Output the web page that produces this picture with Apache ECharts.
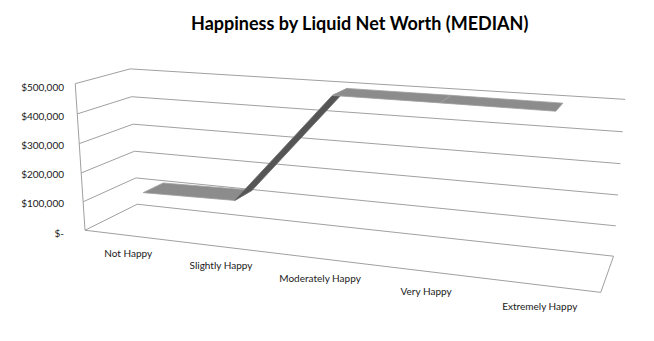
<!DOCTYPE html>
<html>
<head>
<meta charset="utf-8">
<script src="https://cdn.jsdelivr.net/npm/echarts@6/dist/echarts.min.js"></script>
<style>html,body{margin:0;padding:0;background:#fff;}#chart{width:654px;height:341px;}</style>
</head>
<body>
<div id="chart"></div>
<script>
// ---- data ----
const categories = ['Not Happy', 'Slightly Happy', 'Moderately Happy', 'Very Happy', 'Extremely Happy'];
const medianNetWorth = [122000, 128000, 498000, 497000, 495000];
const yTickValues = [0, 100000, 200000, 300000, 400000, 500000];
const yTickLabels = ['$-', '$100,000', '$200,000', '$300,000', '$400,000', '$500,000'];
const titleText = 'Happiness by Liquid Net Worth (MEDIAN)';

// ---- perspective frame calibration (layout, not data): [X, Yfrac, Z, px, py] ----
const frameRefs = [
  [0,0,0,137,204],[0,0.2,0,135.7,177.7],[0,0.4,0,134.3,150.7],[0,0.6,0,132.7,124.3],[0,0.8,0,131.7,97.3],[0,1,0,130.7,69.3],
  [1,0,0,613.3,256],[1,0.2,0,616,225.7],[1,0.4,0,618.3,195],[1,0.6,0,620.7,164],[1,0.8,0,622.7,131.7],[1,1,0,625,99.3],
  [0,0,1,85,231.7],[0,0.2,1,83.3,201.7],[0,0.4,1,81.7,173],[0,0.6,1,80,141.7],[0,0.8,1,77.3,114],[0,1,1,74,84],
  [1,0,1,600.5,292.5]
];

function solveLinear(M, r) {
  const n = r.length;
  const a = M.map((row, i) => row.concat([r[i]]));
  for (let c = 0; c < n; c++) {
    let p = c;
    for (let i = c + 1; i < n; i++) if (Math.abs(a[i][c]) > Math.abs(a[p][c])) p = i;
    [a[c], a[p]] = [a[p], a[c]];
    for (let i = c + 1; i < n; i++) {
      const f = a[i][c] / a[c][c];
      for (let j = c; j <= n; j++) a[i][j] -= f * a[c][j];
    }
  }
  const x = new Array(n).fill(0);
  for (let i = n - 1; i >= 0; i--) {
    let s = a[i][n];
    for (let j = i + 1; j < n; j++) s -= a[i][j] * x[j];
    x[i] = s / a[i][i];
  }
  return x;
}
function buildProjection(refs) {
  const S = 100;
  const rows = [], rhs = [];
  refs.forEach(([X, Y, Z, u0, v0]) => {
    const u = u0 / S, v = v0 / S;
    rows.push([X, Y, Z, 1, 0, 0, 0, 0, -u * X, -u * Y, -u * Z]); rhs.push(u);
    rows.push([0, 0, 0, 0, X, Y, Z, 1, -v * X, -v * Y, -v * Z]); rhs.push(v);
  });
  const n = 11;
  const M = [], r = [];
  for (let i = 0; i < n; i++) {
    M.push(new Array(n).fill(0)); r.push(0);
    for (let k = 0; k < rows.length; k++) {
      r[i] += rows[k][i] * rhs[k];
      for (let j = 0; j < n; j++) M[i][j] += rows[k][i] * rows[k][j];
    }
  }
  const p = solveLinear(M, r);
  return function (X, Y, Z) {
    const w = p[8] * X + p[9] * Y + p[10] * Z + 1;
    return [S * (p[0] * X + p[1] * Y + p[2] * Z + p[3]) / w, S * (p[4] * X + p[5] * Y + p[6] * Z + p[7]) / w];
  };
}
const proj = buildProjection(frameRefs);

function frac(params, pt) {
  const cs = params.coordSys;
  return [(pt[0] - cs.x) / cs.width, (cs.y + cs.height - pt[1]) / cs.height];
}

const ribbonBack = 0.3, ribbonFront = 0.7;
const segments = [];
for (let i = 0; i < medianNetWorth.length - 1; i++) segments.push([i, medianNetWorth[i], i + 1, medianNetWorth[i + 1]]);
const gridColor = '#a0a0a0';
const fontFamily = 'Lato, "Open Sans", sans-serif';

const chart = echarts.init(document.getElementById('chart'), null, { renderer: 'svg' });
chart.setOption({
  animation: false,
  backgroundColor: '#ffffff',
  title: {
    text: titleText, left: 186, top: 9,
    textStyle: { fontFamily: fontFamily, fontSize: 18, fontWeight: 'bold', color: '#000' }
  },
  grid: { left: 70, top: 86.5, height: 146, right: 40 },
  xAxis: { type: 'category', data: categories, show: false },
  yAxis: {
    type: 'value', min: 0, max: 500000, interval: 100000,
    axisLine: { show: false }, axisTick: { show: false }, splitLine: { show: false },
    axisLabel: {
      margin: 6, fontFamily: fontFamily, fontSize: 10, color: '#1a1a1a',
      formatter: v => yTickLabels[yTickValues.indexOf(v)]
    }
  },
  series: [
    {
      type: 'custom', name: 'frame', silent: true, z: 1,
      data: yTickValues.map(v => [0, v]),
      renderItem: function (params, api) {
        const f = frac(params, api.coord([0, api.value(1)]))[1];
        const children = [{
          type: 'polyline', shape: { points: [proj(0, f, 1), proj(0, f, 0), proj(1, f, 0)] },
          style: { stroke: gridColor, lineWidth: 1, fill: null }
        }];
        if (params.dataIndex === 0) {
          children.push({
            type: 'polyline', shape: { points: [proj(0, f, 1), proj(1, f, 1), proj(1, f, 0)] },
            style: { stroke: gridColor, lineWidth: 1, fill: null }
          });
          const top = frac(params, api.coord([0, yTickValues[yTickValues.length - 1]]))[1];
          children.push({
            type: 'polyline', shape: { points: [proj(0, f, 1), proj(0, top, 1)] },
            style: { stroke: gridColor, lineWidth: 1, fill: null }
          });
        }
        return { type: 'group', children: children };
      }
    },
    {
      type: 'custom', name: 'Median liquid net worth', z: 3,
      data: segments,
      encode: { x: [0, 2], y: [1, 3] },
      renderItem: function (params, api) {
        const a = frac(params, api.coord([api.value(0), api.value(1)]));
        const b = frac(params, api.coord([api.value(2), api.value(3)]));
        const steep = Math.abs(b[1] - a[1]) > 0.05;
        return {
          type: 'polygon',
          shape: { points: [proj(a[0], a[1], ribbonBack), proj(b[0], b[1], ribbonBack), proj(b[0], b[1], ribbonFront), proj(a[0], a[1], ribbonFront)] },
          style: { fill: steep ? '#555555' : '#8c8c8c', stroke: steep ? '#6a6a6a' : '#a0a0a0', lineWidth: 0.8 }
        };
      }
    },
    {
      type: 'custom', name: 'labels', silent: true, z: 2,
      data: categories.map((c, i) => [i, 0]),
      renderItem: function (params, api) {
        const a = frac(params, api.coord([api.value(0), 0]));
        const p = proj(a[0], 0, 1);
        return {
          type: 'text', x: p[0] - 1, y: p[1] + 17 + 4 * (a[0] - 0.1) / 0.8,
          style: { text: categories[params.dataIndex], fontFamily: fontFamily, fontSize: 10, fill: '#1a1a1a', align: 'center', verticalAlign: 'middle' }
        };
      }
    }
  ]
});
</script>
</body>
</html>
